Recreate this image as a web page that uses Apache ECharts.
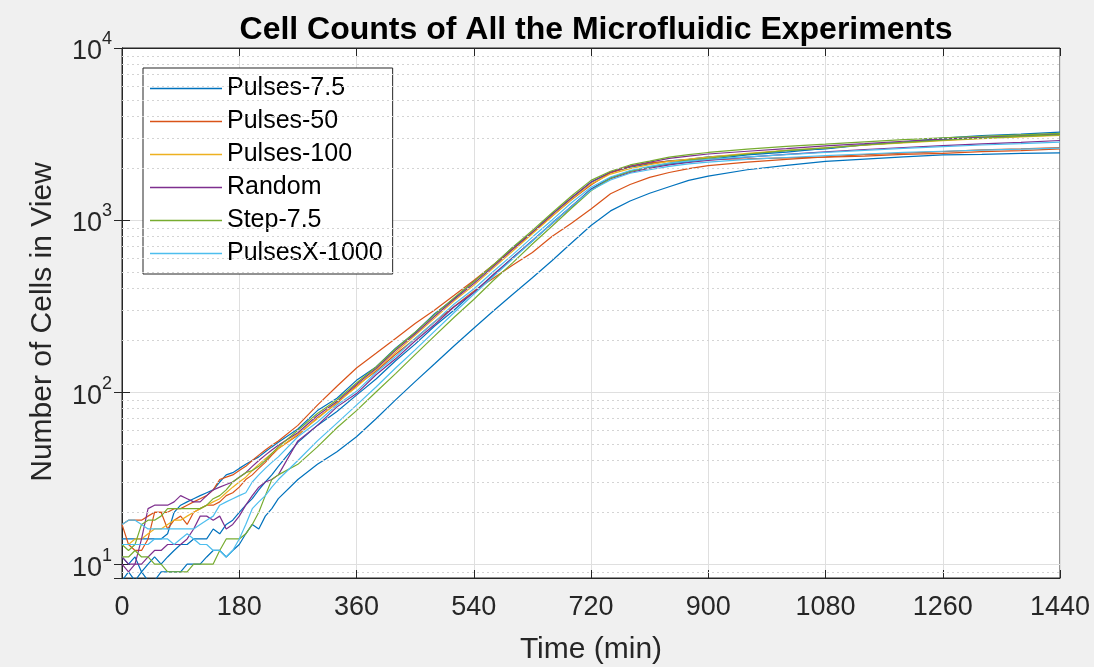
<!DOCTYPE html>
<html><head><meta charset="utf-8">
<script src="https://cdn.jsdelivr.net/npm/echarts@6/dist/echarts.min.js"></script>
<style>html,body{margin:0;padding:0;background:#f0f0f0}#c{width:1094px;height:667px}</style>
</head><body><div id="c"></div>
<script>
// Time points (min)
const times = [0,10,20,30,40,50,60,70,80,90,100,110,120,130,140,150,160,170,180,190,200,210,220,230,240,
  270,300,330,360,390,420,450,480,510,540,570,600,630,660,690,720,
  750,780,810,840,870,900,960,1020,1080,1140,1200,1260,1320,1380,1440];

const xTicks = [0,180,360,540,720,900,1080,1260,1440];
const yMinorTicks = [9,20,30,40,50,60,70,80,90,200,300,400,500,600,700,800,900,2000,3000,4000,5000,6000,7000,8000,9000];
const legendNames = ['Pulses-7.5','Pulses-50','Pulses-100','Random','Step-7.5','PulsesX-1000'];

// Cell counts per run
const pulses75_a = [14,14,14,14,14,14,14,15,20,22,23,24,25,26,27,30,33,34,36,38,40,42,45,48,51,
  61,78,92,117,140,180,222,285,350,440,545,695,845,1080,1340,1660,
  1890,2030,2120,2210,2250,2330,2410,2530,2590,2730,2840,2990,3100,3160,3240];
const pulses75_b = [8,9,8,9,8,8,9,9,9,9,10,10,10,11,12,12,11,12,13,15,17,16,19,21,24,
  31,38,45,55,70,90,115,146,186,235,296,370,462,580,735,930,
  1130,1290,1430,1560,1700,1800,1960,2080,2190,2260,2330,2390,2410,2440,2460];
const pulses75_c = [11,10,11,9,10,11,10,11,12,13,13,14,14,14,16,15,17,18,20,22,24,27,30,33,37,
  51,64,77,96,119,152,190,242,300,382,476,606,755,960,1195,1514,
  1760,1920,2030,2120,2180,2250,2390,2480,2610,2740,2830,2930,3010,3080,3160];
const pulses50_a = [17,18,18,18,19,20,20,20,21,21,22,23,24,25,27,31,32,33,35,37,40,43,46,49,52,
  64,84,108,138,168,205,250,300,365,445,548,678,842,1050,1310,1600,
  1880,2050,2150,2200,2230,2260,2270,2300,2320,2350,2410,2440,2500,2530,2590];
const pulses50_b = [17,13,12,12,14,20,20,16,18,19,17,20,21,22,22,23,25,26,28,31,33,36,39,43,47,
  56,71,86,109,132,166,204,256,314,386,458,547,648,802,958,1160,
  1420,1610,1770,1890,1990,2070,2170,2250,2330,2400,2450,2500,2560,2590,2640];
const pulses100_a = [13,13,14,14,15,16,16,17,18,18,19,20,21,22,23,24,26,28,30,32,35,38,41,44,47,
  57,70,87,107,135,170,214,269,339,417,525,661,832,1047,1318,1622,
  1850,1990,2100,2190,2260,2320,2440,2540,2630,2720,2810,2890,2970,3040,3100];
const random_a = [11,10,10,14,21,22,22,22,23,25,24,23,23,25,27,28,29,30,32,34,37,40,43,46,49,
  58,73,88,111,137,175,218,276,346,428,536,678,850,1075,1348,1660,
  1900,2060,2170,2280,2350,2420,2510,2600,2700,2780,2870,2950,3030,3100,3170];
const random_b = [10,9,10,10,11,12,12,13,13,13,14,16,19,19,18,19,16,17,19,22,25,28,30,31,33,
  52,64,82,98,126,156,198,247,313,378,482,603,762,952,1203,1500,
  1740,1890,2000,2090,2160,2220,2320,2410,2490,2570,2640,2710,2770,2830,2900];
const step75_a = [13,12,13,17,18,18,19,21,21,21,21,21,21,22,24,25,27,30,32,34,35,37,40,44,48,
  60,75,90,113,140,178,223,282,354,438,549,694,870,1098,1378,1700,
  1920,2090,2200,2320,2400,2470,2580,2680,2760,2850,2930,3000,3070,3130,3190];
const step75_b = [11,11,12,11,11,10,10,9,9,9,9,10,10,10,10,12,14,14,14,15,17,20,25,31,33,
  38,48,62,78,100,128,165,212,272,345,445,565,725,920,1170,1480,
  1750,1920,2040,2140,2230,2290,2420,2530,2630,2730,2830,2910,2990,3060,3130];
const pulsesX_a = [17,18,18,17,16,16,16,16,16,16,16,16,17,18,19,22,23,24,25,26,30,33,36,39,42,
  55,67,84,101,130,161,205,256,325,397,502,629,796,998,1261,1550,
  1780,1940,2050,2140,2200,2250,2330,2400,2470,2540,2610,2670,2730,2780,2840];
const pulsesX_b = [13,13,13,13,13,14,14,14,13,14,15,14,13,13,12,12,11,12,14,17,21,23,25,28,31,
  40,52,66,84,107,138,176,226,290,370,470,595,755,955,1200,1490,
  1710,1870,1960,2050,2120,2170,2250,2310,2370,2420,2470,2510,2550,2580,2620];

const runs = [
  ['Pulses-7.5', pulses75_a, '#0072BD'],
  ['Pulses-7.5', pulses75_b, '#0072BD'],
  ['Pulses-7.5', pulses75_c, '#0072BD'],
  ['Pulses-50', pulses50_a, '#D95319'],
  ['Pulses-50', pulses50_b, '#D95319'],
  ['Pulses-100', pulses100_a, '#EDB120'],
  ['Random', random_a, '#7E2F8E'],
  ['Random', random_b, '#7E2F8E'],
  ['Step-7.5', step75_a, '#77AC30'],
  ['Step-7.5', step75_b, '#77AC30'],
  ['PulsesX-1000', pulsesX_a, '#4DBEEE'],
  ['PulsesX-1000', pulsesX_b, '#4DBEEE']
];

const FONT = "'Liberation Sans', Arial, sans-serif";
const AX = '#262626';

function yLabel(v) {
  const l = Math.log10(v);
  const e = Math.round(l);
  if (Math.abs(l - e) > 1e-6) return '';
  return '{b|10}{s|' + e + '}';
}

const series = [{
  type: 'line', name: '', data: [], silent: true, z: 1,
  markLine: {
    silent: true, symbol: ['none', 'none'], animation: false,
    label: {show: false},
    lineStyle: {color: '#d4d4d4', type: [2, 3], width: 1},
    data: yMinorTicks.map(v => ({yAxis: v}))
  }
}];
runs.forEach(r => {
  series.push({
    type: 'line', name: r[0],
    data: times.map((t, i) => [t, r[1][i]]),
    symbol: 'none', showSymbol: false,
    lineStyle: {color: r[2], width: 1.2},
    itemStyle: {color: r[2]},
    emphasis: {disabled: true}
  });
});

const chart = echarts.init(document.getElementById('c'));
chart.setOption({
  backgroundColor: '#f0f0f0',
  animation: false,
  textStyle: {fontFamily: FONT},
  title: {
    text: 'Cell Counts of All the Microfluidic Experiments',
    left: 591, top: 9, textAlign: 'center',
    textStyle: {fontFamily: FONT, fontSize: 32, fontWeight: 'bold', color: '#000'}
  },
  grid: {left: 122, right: 34, top: 48, bottom: 89, show: true, backgroundColor: '#fff',
    borderColor: AX, borderWidth: 1, containLabel: false, outerBoundsMode: 'none'},
  legend: {
    data: legendNames, orient: 'vertical', left: 143, top: 68,
    backgroundColor: '#fff', borderColor: AX, borderWidth: 1,
    padding: [8, 10, 8, 7], itemGap: 8, itemWidth: 72, itemHeight: 1.4,
    icon: 'rect',
    textStyle: {fontFamily: FONT, fontSize: 25, color: '#000', lineHeight: 25},
    selectedMode: false
  },
  xAxis: [{
    type: 'value', min: 0, max: 1440, interval: 180,
    name: 'Time (min)', nameLocation: 'middle', nameGap: 57,
    nameTextStyle: {fontFamily: FONT, fontSize: 30, color: AX},
    axisLine: {lineStyle: {color: AX, width: 1}},
    axisTick: {inside: true, length: 8, lineStyle: {color: AX}},
    axisLabel: {fontFamily: FONT, fontSize: 27, color: AX, margin: 16, formatter: v => String(v)},
    splitLine: {show: true, lineStyle: {color: '#dfdfdf', width: 1}}
  }, {
    type: 'value', min: 0, max: 1440, interval: 180, position: 'top',
    axisLine: {show: true, lineStyle: {color: AX}},
    axisTick: {inside: true, length: 8, lineStyle: {color: AX}},
    axisLabel: {show: false}, splitLine: {show: false}
  }],
  yAxis: [{
    type: 'log', logBase: 10, min: 8.3, max: 10000,
    name: 'Number of Cells in View', nameLocation: 'middle', nameGap: 64,
    nameTextStyle: {fontFamily: FONT, fontSize: 30, color: AX, padding: [0, 18, 0, 0]},
    axisLine: {show: true, lineStyle: {color: AX, width: 1}},
    axisTick: {inside: true, length: 8, lineStyle: {color: AX}},
    axisLabel: {
      formatter: yLabel, color: AX, margin: 10,
      rich: {
        b: {fontFamily: FONT, fontSize: 27, color: AX, padding: [8, 0, 0, 0]},
        s: {fontFamily: FONT, fontSize: 18, color: AX, verticalAlign: 'top'}
      }
    },
    splitLine: {show: true, lineStyle: {color: '#dfdfdf', width: 1}}
  }, {
    type: 'log', logBase: 10, min: 8.3, max: 10000, position: 'right',
    axisLine: {show: true, lineStyle: {color: AX}},
    axisTick: {inside: true, length: 8, lineStyle: {color: AX}},
    axisLabel: {show: false}, splitLine: {show: false}
  }],
  series: series
});
</script></body></html>
